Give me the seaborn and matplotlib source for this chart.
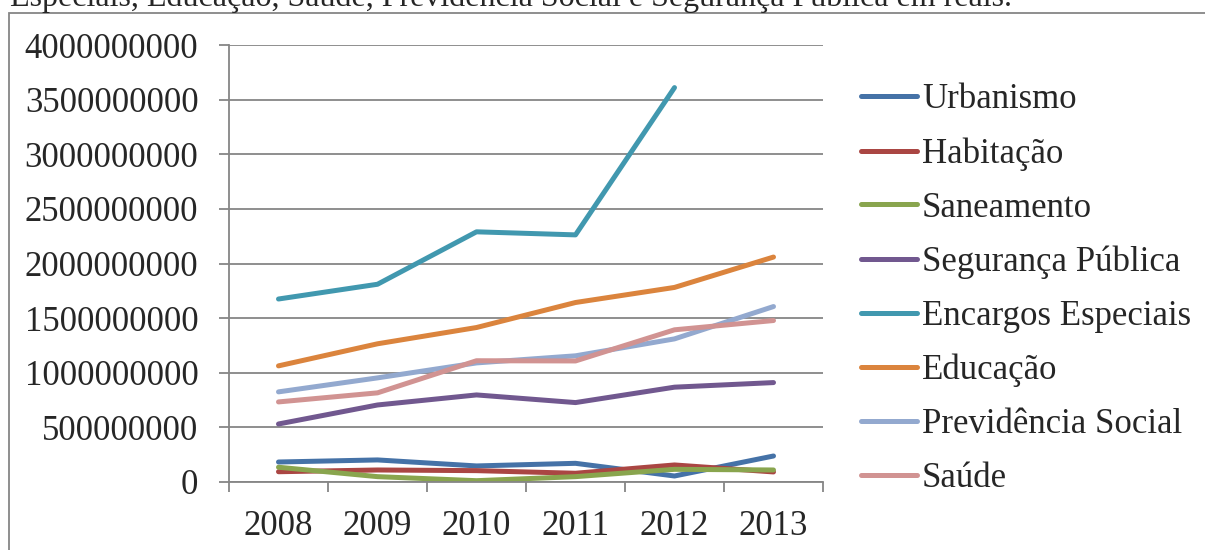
import numpy as np
import pandas as pd
import matplotlib
matplotlib.use("Agg")
import matplotlib.pyplot as plt
import seaborn as sns
from matplotlib.patches import Rectangle
from matplotlib.ticker import FixedLocator, MultipleLocator

# dados (reais)
anos = [2008, 2009, 2010, 2011, 2012, 2013]
urbanismo = [183e6, 202e6, 147e6, 171e6, 55e6, 238e6]
habitacao = [94e6, 110e6, 104e6, 80e6, 156e6, 92e6]
saneamento = [135e6, 49e6, 12e6, 49e6, 116e6, 110e6]
seguranca = [531e6, 705e6, 797e6, 727e6, 868e6, 910e6]
encargos = [1675e6, 1810e6, 2290e6, 2262e6, 3610e6, np.nan]
educacao = [1063e6, 1265e6, 1414e6, 1643e6, 1781e6, 2059e6]
previdencia = [825e6, 953e6, 1090e6, 1155e6, 1310e6, 1606e6]
saude = [733e6, 816e6, 1110e6, 1108e6, 1393e6, 1478e6]

series = ["Urbanismo", "Habitação", "Saneamento", "Segurança Pública",
          "Encargos Especiais", "Educação", "Previdência Social", "Saúde"]
valores = [urbanismo, habitacao, saneamento, seguranca,
           encargos, educacao, previdencia, saude]
cores = ["#4572A7", "#AA4643", "#89A54E", "#71588F",
         "#4198AF", "#DB843D", "#93A9CF", "#D19392"]

legenda_titulo = "Especiais, Educação, Saúde, Previdência Social e Segurança Pública em reais."

df = pd.DataFrame({
    "ano": np.tile(anos, len(series)),
    "valor": np.concatenate(valores),
    "serie": np.repeat(series, len(anos)),
})

sns.set_style("white")
plt.rcParams["font.family"] = ["Liberation Serif", "DejaVu Serif"]

fig = plt.figure(figsize=(12.05, 5.5), dpi=100)
ax = fig.add_axes([229 / 1205, 68 / 550, 594 / 1205, 437 / 550])

grid_c = "#868686"
sns.lineplot(data=df, x="ano", y="valor", hue="serie", hue_order=series,
             palette=dict(zip(series, cores)), linewidth=3.6, ax=ax,
             solid_capstyle="round", solid_joinstyle="round", legend=True)

ax.set_xlim(2007.5, 2013.5)
ax.set_ylim(0, 4e9)
ax.yaxis.set_major_locator(MultipleLocator(5e8))
ax.set_yticklabels([f"{int(v)}" for v in ax.get_yticks()])
ax.xaxis.set_major_locator(FixedLocator(anos))
ax.xaxis.set_minor_locator(FixedLocator([a - 0.5 for a in anos] + [2013.5]))
ax.set_xticklabels([str(a) for a in anos])
ax.tick_params(axis="y", which="major", length=7, width=1.3, color=grid_c,
               labelsize=25, pad=15, left=True)
ax.tick_params(axis="x", which="major", length=0, labelsize=25, pad=20)
ax.tick_params(axis="x", which="minor", length=7, width=1.3, color=grid_c,
               bottom=True, direction="out")
ax.grid(axis="y", color=grid_c, linewidth=1.3)
ax.set_axisbelow(True)
for s in ["top", "right"]:
    ax.spines[s].set_visible(False)
for s in ["left", "bottom"]:
    ax.spines[s].set_color(grid_c)
    ax.spines[s].set_linewidth(1.3)
ax.set_xlabel("")
ax.set_ylabel("")

handles, labels = ax.get_legend_handles_labels()
ax.legend(handles, labels, loc="center left",
          bbox_to_anchor=(861 / 1205, 1 - 289 / 550),
          bbox_transform=fig.transFigure, frameon=False, fontsize=25,
          handlelength=1.6, handletextpad=0.15, labelspacing=0.6,
          borderpad=0, borderaxespad=0)
for ln in ax.get_legend().get_lines():
    ln.set_linewidth(3.6)

# moldura do gráfico e legenda cortada no topo
fig.patches.append(Rectangle((8.5 / 1205, -0.1), 1.1, 1 - 12.7 / 550 + 0.1,
                             transform=fig.transFigure, fill=False,
                             edgecolor=grid_c, linewidth=1.3))
fig.text(10 / 1205, 1 - 6 / 550, legenda_titulo, ha="left", va="baseline",
         fontsize=23)

fig.savefig("out.png", dpi=100)
